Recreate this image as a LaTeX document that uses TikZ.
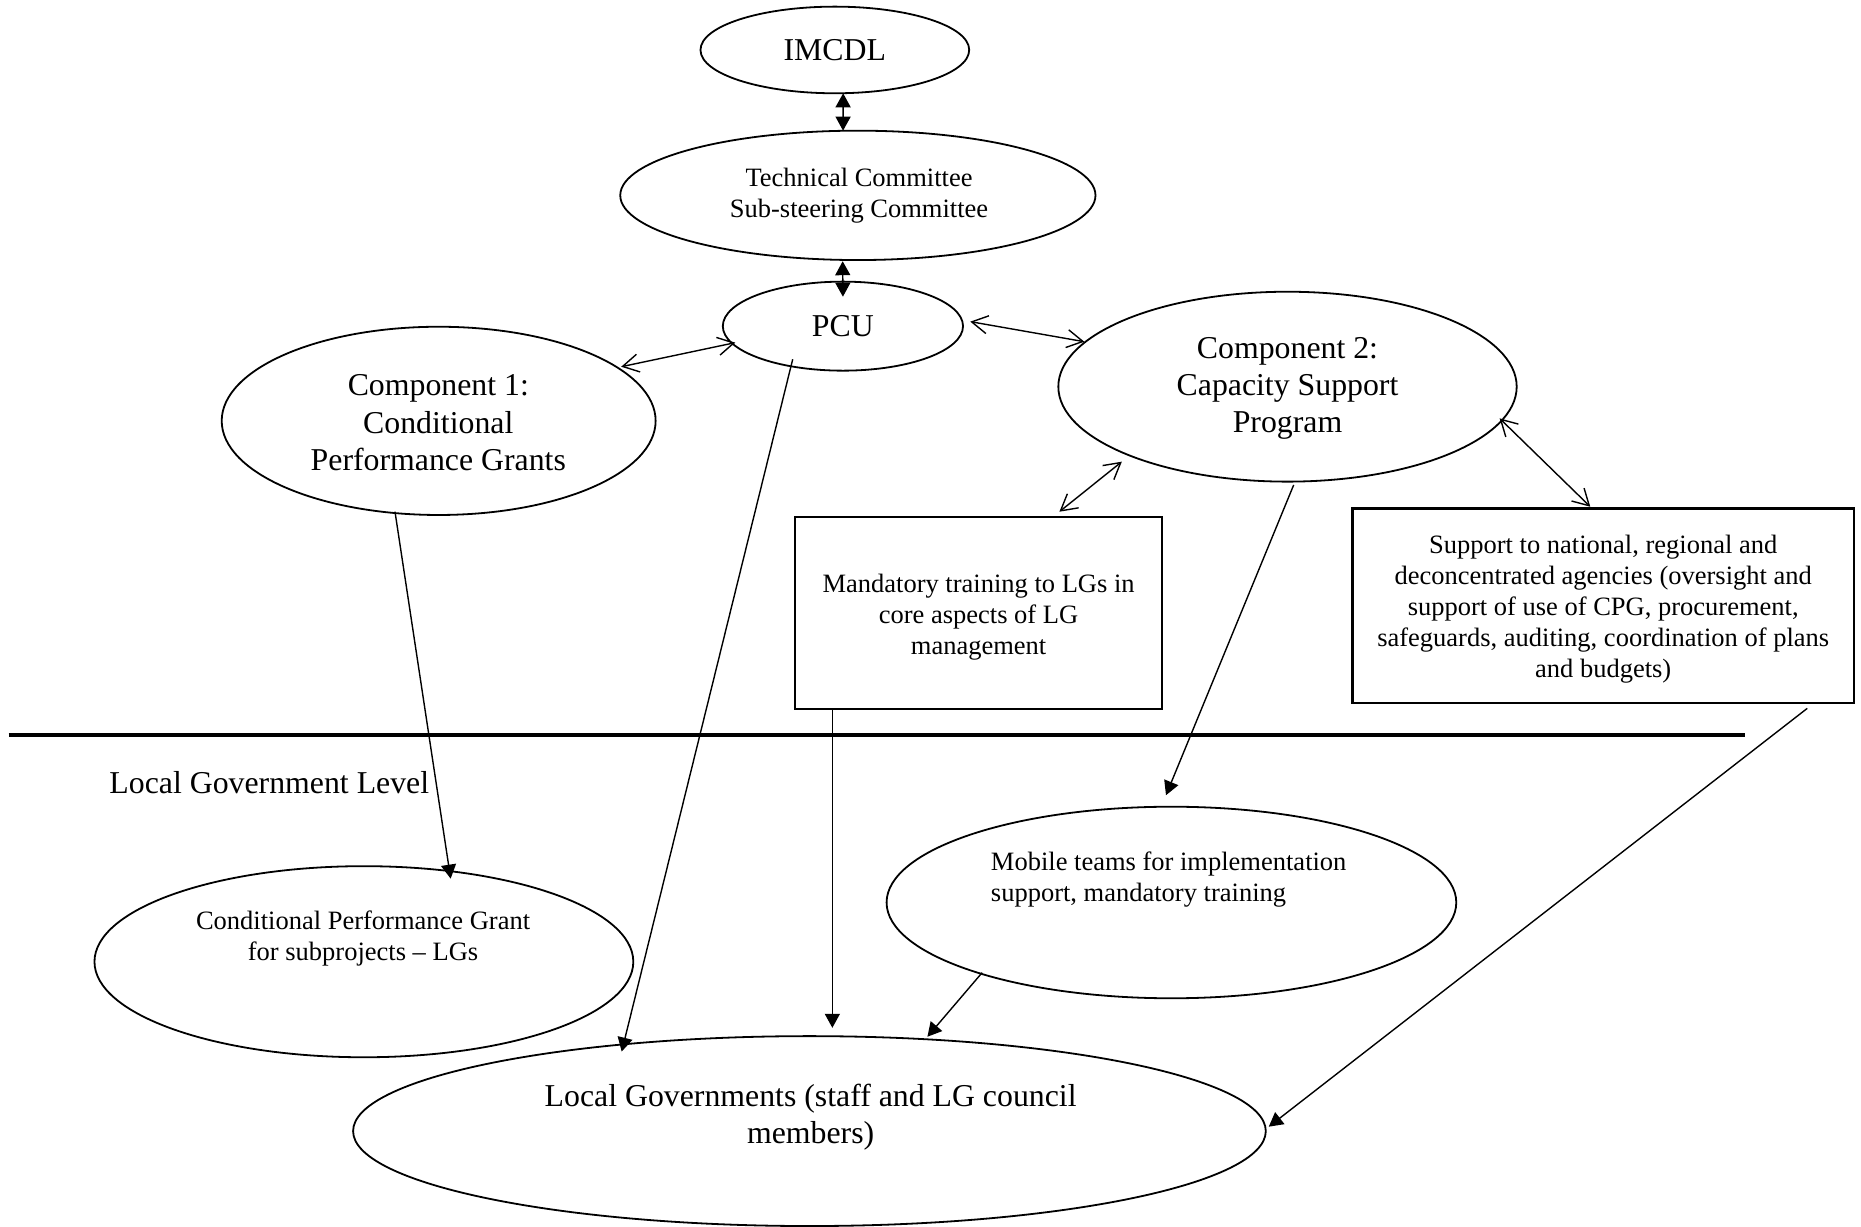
\documentclass[tikz,border=0pt]{standalone}
\usepackage{fontspec}
\setmainfont{Liberation Serif}
\usetikzlibrary{arrows.meta,shapes.geometric,calc}
\newcommand\dgbig{\fontsize{15.9}{18.6}\selectfont}
\newcommand\dgsmall{\fontsize{13.25}{15.5}\selectfont}
\tikzset{
  ellnode/.style 2 args={ellipse, draw, line width=0.9pt, inner sep=0pt, outer sep=0pt,
    minimum width={#1*0.593431pt}, minimum height={#2*0.593431pt}},
  boxnode/.style 2 args={rectangle, draw, line width=1.15pt, inner sep=0pt, outer sep=0pt,
    minimum width={#1*0.593431pt}, minimum height={#2*0.593431pt}},
  bigtxt/.style={inner sep=0pt, align=center, font=\dgbig},
  smalltxt/.style={inner sep=0pt, align=center, font=\dgsmall},
  ftip/.tip={Triangle[length=7pt,width=7.5pt]},
  otip/.tip={Straight Barb[length=8pt,width=9pt]},
  oneway/.style={line width=0.7pt, -ftip},
  twowayfilled/.style={line width=0.7pt, ftip-ftip},
  twowayopen/.style={line width=0.7pt, otip-otip},
}
\begin{document}
\begin{tikzpicture}[x=0.593431pt, y=-0.593431pt]
\useasboundingbox (0,0) rectangle (1568,1033);

% ellipses
\node[ellnode={226.4}{73}, font=\dgbig] (imcdl) at (703.4,42.1) {IMCDL};
\node[ellnode={400.4}{109}] (tech) at (722.8,164.6) {};
\node[smalltxt] (techt) at (723.8,164.6) {Technical Committee\\Sub-steering Committee};
\node[ellnode={202.4}{75}, font=\dgbig] (pcu) at (710.2,274.8) {PCU};
\node[ellnode={365.6}{158.6}] (comp1) at (369.6,354.6) {};
\node[bigtxt] (comp1t) at (369.3,356.2) {Component 1:\\Conditional\\Performance Grants};
\node[ellnode={386.2}{160}] (comp2) at (1084.8,325.8) {};
\node[bigtxt] (comp2t) at (1084.8,327.4) {Component 2:\\Capacity Support\\Program};
\node[ellnode={454}{161}] (cpg) at (306.6,810.3) {};
\node[smalltxt] (cpgt) at (305.9,791) {Conditional Performance Grant\\for subprojects – LGs};
\node[ellnode={480}{161.4}] (mobile) at (987,760.4) {};
\node[smalltxt, align=left, anchor=west] (mobt) at (834.6,741) {Mobile teams for implementation\\support, mandatory training};
\node[ellnode={769}{160}] (lg) at (682,953) {};
\node[bigtxt] (lgt) at (683,941.6) {Local Governments (staff and LG council\\members)};

% boxes
\node[boxnode={309.5}{162.3}] (mand) at (824.5,516.5) {};
\node[smalltxt] (mandt) at (824.5,520) {Mandatory training to LGs in\\core aspects of LG\\management};
\node[boxnode={422.4}{163.7}] (sup) at (1350.8,510.2) {};
\node[smalltxt] (supt) at (1350.8,513.2) {Support to national, regional and\\deconcentrated agencies (oversight and\\support of use of CPG, procurement,\\safeguards, auditing, coordination of plans\\and budgets)};

% level divider
\draw[line width=2pt] (7.3,619.5) -- (1470.4,619.5);
\node[inner sep=0pt, anchor=base west, font=\dgbig] (lgl) at (91.9,668.4) {Local Government Level};

% connectors
\draw[twowayfilled] ($(imcdl.south)+(7,0)$) -- ($(tech.north)+(-12.5,0)$);
\draw[twowayfilled] ($(tech.south)+(-12.8,1)$) -- ($(pcu.north)+(0,12.7)$);
\draw[twowayopen] ($(pcu.center)+(-90.7,13.9)$) -- ($(comp1.center)+(153.8,-45.6)$);
\draw[twowayopen] ($(pcu.center)+(107.3,-3.8)$) -- ($(comp2.center)+(-171.2,-37.9)$);
\draw[twowayopen] ($(comp2.center)+(-139.6,63.2)$) -- ($(mand.north)+(68.1,-4.2)$);
\draw[twowayopen] ($(comp2.center)+(178.7,26.7)$) -- ($(sup.north)+(-10.9,-1.4)$);
\draw[oneway] ($(comp1.center)+(-36.8,76.5)$) -- ($(cpg.center)+(73.1,-70)$);
\draw[oneway] ($(pcu.center)+(-42.3,27.9)$) -- ($(lg.center)+(-158.2,-67)$);
\draw[oneway] ($(mand.south)+(-123.2,0)$) -- ($(lg.center)+(19.3,-87)$);
\draw[oneway] ($(comp2.center)+(5.2,82.8)$) -- ($(mobile.center)+(-4.6,-90.4)$);
\draw[oneway] ($(mobile.center)+(-159.5,59.1)$) -- ($(lg.center)+(99.4,-79.5)$);
\draw[oneway] ($(sup.south)+(171.9,4.8)$) -- ($(lg.center)+(387,-3.7)$);
\end{tikzpicture}
\end{document}
